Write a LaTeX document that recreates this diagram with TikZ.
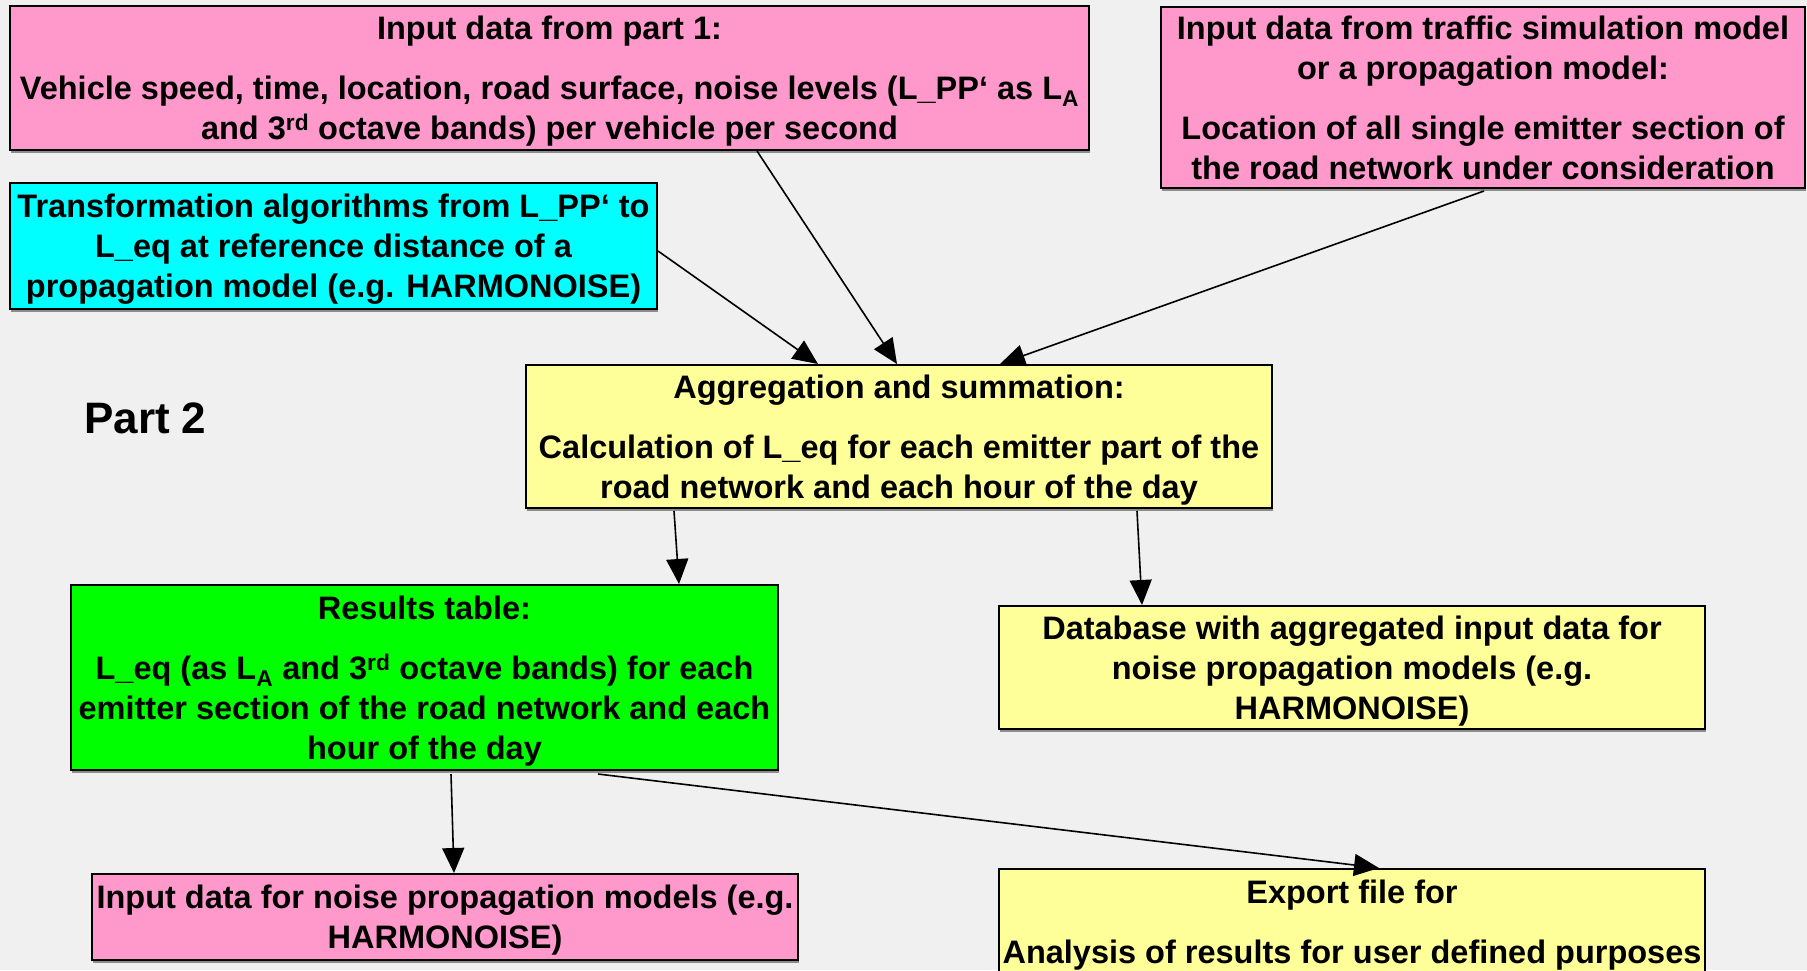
\documentclass[tikz,border=0pt]{standalone}
\usepackage{fontspec}
\setmainfont{Liberation Sans}
\usetikzlibrary{arrows.meta,shadows}
\definecolor{bg}{HTML}{F0F0F0}
\definecolor{pinkbox}{HTML}{FF99CC}
\definecolor{cyanbox}{HTML}{00FFFF}
\definecolor{yellowbox}{HTML}{FFFF99}
\definecolor{greenbox}{HTML}{00FF00}
\newcommand{\tstrut}{\rule{0pt}{30pt}}
\tikzset{
  box/.style={draw=black, line width=2pt, anchor=north west, inner sep=0pt,
    align=center, font=\bfseries\fontsize{32.5}{40}\selectfont,
    drop shadow={shadow xshift=1pt, shadow yshift=-2.5pt, fill=black!45, opacity=1}},
  arr/.style={draw=black, line width=1.6pt, -{Triangle[length=25pt,width=22pt]}},
}
\begin{document}
\begin{tikzpicture}[x=1pt,y=-1pt]
\fill[bg] (0,0) rectangle (1807,970);
\useasboundingbox (0,0) rectangle (1807,970);

\node[box, fill=pinkbox, minimum width=1079pt, minimum height=144pt] (A) at (9,5)
  {\tstrut Input data from part 1:\\[20pt]
   Vehicle speed, time, location, road surface, noise levels (L\_PP‘ as L\textsubscript{A}\\
   and 3\textsuperscript{rd} octave bands) per vehicle per second};

\node[box, fill=pinkbox, minimum width=644pt, minimum height=181pt] (B) at (1160,6)
  {Input data from traffic simulation model\\
   or a propagation model:\\[20pt]
   Location of all single emitter section of\\
   the road network under consideration};

\node[box, fill=cyanbox, minimum width=647pt, minimum height=126pt] (C) at (9,182)
  {\tstrut Transformation algorithms from L\_PP‘ to\\
   L\_eq at reference distance of a\\
   propagation model (e.g. HARMONOISE)};

\node[anchor=west, font=\bfseries\fontsize{44}{50}\selectfont, inner sep=0pt] (P) at (84,418) {Part 2};

\node[box, fill=yellowbox, minimum width=746pt, minimum height=143pt] (D) at (525,364)
  {\tstrut Aggregation and summation:\\[20pt]
   Calculation of L\_eq for each emitter part of the\\
   road network and each hour of the day};

\node[box, fill=greenbox, minimum width=707pt, minimum height=185pt] (E) at (70,584)
  {\tstrut Results table:\\[20pt]
   L\_eq (as L\textsubscript{A} and 3\textsuperscript{rd} octave bands) for each\\
   emitter section of the road network and each\\
   hour of the day};

\node[box, fill=yellowbox, minimum width=706pt, minimum height=123pt] (F) at (998,605)
  {\tstrut Database with aggregated input data for\\
   noise propagation models (e.g.\\
   HARMONOISE)};

\node[box, fill=pinkbox, minimum width=706pt, minimum height=86pt] (G) at (91,873)
  {\tstrut Input data for noise propagation models (e.g.\\
   HARMONOISE)};

\node[box, fill=yellowbox, minimum width=706pt, minimum height=112pt] (H) at (998,868)
  {Export file for\\[20pt]
   Analysis of results for user defined purposes};

\draw[arr] ([xshift=748pt]A.south west) -- ([xshift=372pt]D.north west);
\draw[arr] ([yshift=-69pt]C.north east) -- ([xshift=293pt]D.north west);
\draw[arr] ([xshift=324pt,yshift=-2pt]B.south west) -- ([xshift=475pt]D.north west);
\draw[arr] ([xshift=149pt,yshift=-2pt]D.south west) -- ([xshift=609pt]E.north west);
\draw[arr] ([xshift=612pt,yshift=-2pt]D.south west) -- ([xshift=144pt]F.north west);
\draw[arr] ([xshift=381pt,yshift=-3pt]E.south west) -- ([xshift=363pt]G.north west);
\draw[arr] ([xshift=528pt,yshift=-3pt]E.south west) -- ([xshift=381pt]H.north west);
\end{tikzpicture}
\end{document}
